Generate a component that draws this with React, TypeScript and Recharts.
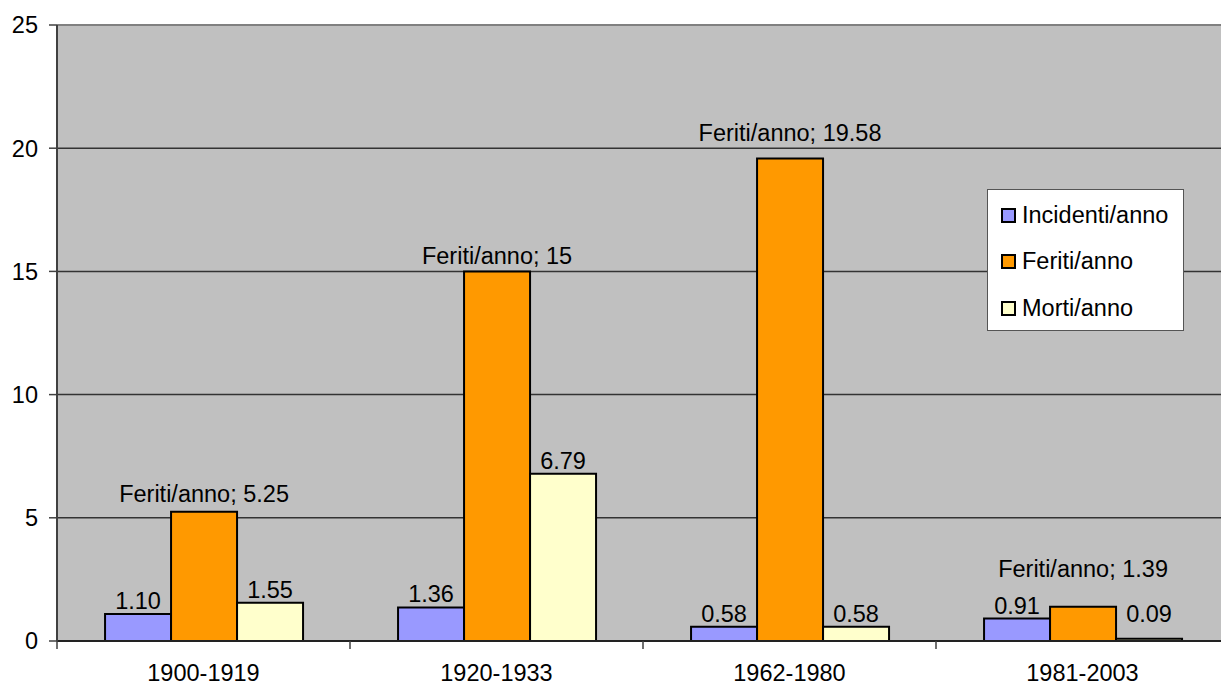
import React from 'react';
import {
  BarChart,
  Bar,
  XAxis,
  YAxis,
  CartesianGrid,
  LabelList,
  ReferenceLine,
} from 'recharts';

const categories = ['1900-1919', '1920-1933', '1962-1980', '1981-2003'];
const incidenti = [1.1, 1.36, 0.58, 0.91];
const feriti = [5.25, 15, 19.58, 1.39];
const morti = [1.55, 6.79, 0.58, 0.09];
const yTicks = [0, 5, 10, 15, 20, 25];
const GRID_STEP = 5;

const seriesNames = ['Incidenti/anno', 'Feriti/anno', 'Morti/anno'];
const seriesColors = ['#9999FF', '#FF9900', '#FFFFCC'];

const data = categories.map((c, i) => ({
  name: c,
  incidenti: incidenti[i],
  feriti: feriti[i],
  morti: morti[i],
}));

const FONT = '"Liberation Sans", Arial, sans-serif';
const FS = 23.5;

const CHART_W = 1229;
const CHART_H = 686;
const MARGIN = { top: 25, right: 0, bottom: 0, left: 0 };
const Y_W = 57;
const X_H = 45;
const PLOT_W = CHART_W - MARGIN.left - MARGIN.right - Y_W;
const BAND = PLOT_W / categories.length;

// value label above the small bars; tiny bars keep the label clear of the axis
const smallLabel = (props: any) => {
  const { x, y, width, height, value } = props;
  const bottom = y + height;
  const anchor = Math.min(y, bottom - 14);
  return (
    <text
      x={x + width / 2}
      y={anchor - 5}
      textAnchor="middle"
      fontFamily={FONT}
      fontSize={FS}
      fill="#000"
    >
      {Number(value).toFixed(2)}
    </text>
  );
};

// "Feriti/anno; value" label: sits above the bar, hops over a gridline that
// is just above the bar top, and short bars get lifted above neighbouring labels
const feritiLabel = (props: any) => {
  const { x, y, width, height, value } = props;
  const v = Number(value);
  const ppu = height / v;
  const nextGrid = Math.ceil(v / GRID_STEP) * GRID_STEP;
  const dist = (nextGrid - v) * ppu;
  let lift = 10;
  if (height < 40) lift = 30;
  else if (dist < 15) lift = dist + 7;
  return (
    <text
      x={x + width / 2}
      y={y - lift}
      textAnchor="middle"
      fontFamily={FONT}
      fontSize={FS}
      fill="#000"
    >
      {`Feriti/anno; ${value}`}
    </text>
  );
};

const CategoryTick = (props: any) => {
  const { x, y, payload, index } = props;
  return (
    <g>
      <line x1={x - BAND / 2} x2={x - BAND / 2} y1={y} y2={y + 8} stroke="#404040" strokeWidth={1.5} />
      {index === categories.length - 1 && (
        <line x1={x + BAND / 2} x2={x + BAND / 2} y1={y} y2={y + 8} stroke="#404040" strokeWidth={1.5} />
      )}
      <text
        x={x}
        y={y + 40}
        textAnchor="middle"
        fontFamily={FONT}
        fontSize={FS}
        fill="#000"
      >
        {payload.value}
      </text>
    </g>
  );
};

// series key drawn as a boxed overlay inside the plot area
const LegendBox = () => (
  <div
    style={{
      position: 'absolute',
      left: 987,
      top: 189,
      background: '#fff',
      border: '1.5px solid #555',
      width: 197,
      height: 142,
      boxSizing: 'border-box',
      paddingTop: 2,
      fontFamily: FONT,
      fontSize: FS,
      color: '#000',
    }}
  >
    {seriesNames.map((n, i) => (
      <div
        key={n}
        style={{ display: 'flex', alignItems: 'center', height: 46.5, paddingLeft: 13 }}
      >
        <div
          style={{
            width: 15,
            height: 15,
            boxSizing: 'border-box',
            border: '2px solid #000',
            background: seriesColors[i],
            marginRight: 6,
          }}
        />
        <span style={{ lineHeight: 1 }}>{n}</span>
      </div>
    ))}
  </div>
);

export default function App() {
  return (
    <div
      style={{
        position: 'absolute',
        left: 0,
        top: 0,
        width: 1221,
        height: 686,
        overflow: 'hidden',
        background: '#fff',
      }}
    >
      <BarChart
        width={CHART_W}
        height={CHART_H}
        data={data}
        margin={MARGIN}
        barCategoryGap="16.4%"
        barGap={0}
      >
        <CartesianGrid
          vertical={false}
          fill="#C0C0C0"
          stroke="#333"
          strokeWidth={1.5}
        />
        <XAxis
          dataKey="name"
          height={X_H}
          tickLine={false}
          tickSize={0}
          tickMargin={0}
          axisLine={{ stroke: '#222', strokeWidth: 2 }}
          tick={<CategoryTick />}
          interval={0}
        />
        <YAxis
          width={Y_W}
          domain={[0, 25]}
          ticks={yTicks}
          interval={0}
          tickSize={8}
          tickMargin={11}
          axisLine={{ stroke: '#404040', strokeWidth: 2 }}
          tickLine={{ stroke: '#404040', strokeWidth: 1.5 }}
          tick={{ fontFamily: FONT, fontSize: FS, fill: '#000' }}
        />
        <ReferenceLine y={25} stroke="#808080" strokeWidth={2} />
        <Bar
          dataKey="incidenti"
          name={seriesNames[0]}
          fill={seriesColors[0]}
          stroke="#000"
          strokeWidth={2}
          isAnimationActive={false}
        >
          <LabelList dataKey="incidenti" content={smallLabel} />
        </Bar>
        <Bar
          dataKey="feriti"
          name={seriesNames[1]}
          fill={seriesColors[1]}
          stroke="#000"
          strokeWidth={2}
          isAnimationActive={false}
        >
          <LabelList dataKey="feriti" content={feritiLabel} />
        </Bar>
        <Bar
          dataKey="morti"
          name={seriesNames[2]}
          fill={seriesColors[2]}
          stroke="#000"
          strokeWidth={2}
          isAnimationActive={false}
        >
          <LabelList dataKey="morti" content={smallLabel} />
        </Bar>
      </BarChart>
      <LegendBox />
    </div>
  );
}
